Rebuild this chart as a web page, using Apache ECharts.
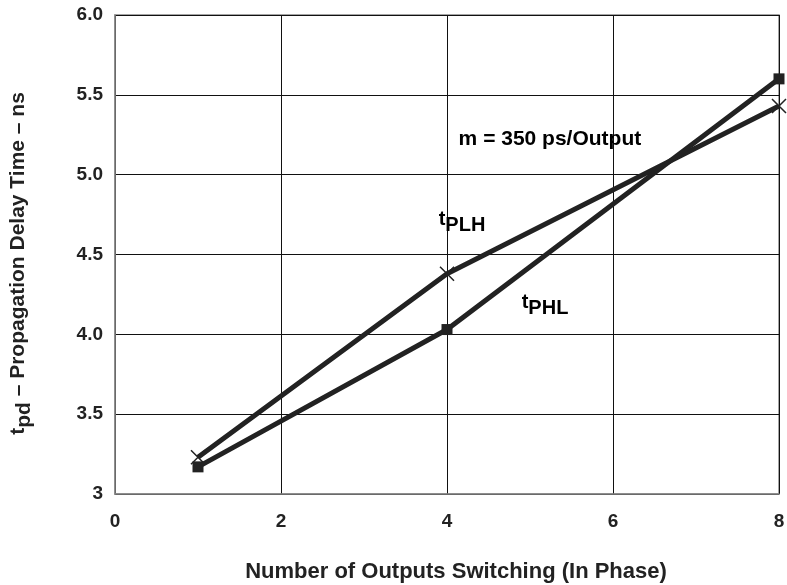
<!DOCTYPE html>
<html><head><meta charset="utf-8">
<script src="https://cdn.jsdelivr.net/npm/echarts@6/dist/echarts.min.js"></script>
<style>html,body{margin:0;padding:0;background:#fff}#c{width:787px;height:585px}</style>
</head><body><div id="c"></div>
<script>
const xTicks = [0, 2, 4, 6, 8];
const yTicks = [3, 3.5, 4.0, 4.5, 5.0, 5.5, 6.0];
const outputs = [1, 4, 8];
const tPLH = [3.23, 4.38, 5.43];
const tPHL = [3.17, 4.03, 5.60];
const notes = [
  {text: '{b|m = 350 ps/Output}', x: 4.14, y: 5.22},
  {text: '{t|t}{s|PLH}', x: 3.90, y: 4.70},
  {text: '{t|t}{s|PHL}', x: 4.90, y: 4.18}
];

const font = 'Liberation Sans, Arial, Helvetica, sans-serif';
const ink = '#222';
const chart = echarts.init(document.getElementById('c'), null, {renderer: 'canvas'});
const crossPath = 'path://M0,0L10,10M10,0L0,10';
const rich = {
  b: {fontFamily: font, fontWeight: 'bold', fontSize: 21, color: ink},
  t: {fontFamily: font, fontWeight: 'bold', fontSize: 20, color: ink, verticalAlign: 'top', lineHeight: 26},
  s: {fontFamily: font, fontWeight: 'bold', fontSize: 20, color: ink, verticalAlign: 'bottom', lineHeight: 26}
};
chart.setOption({
  animation: false,
  grid: {left: 115, right: 8, top: 15, bottom: 91, show: true, borderColor: '#888', borderWidth: 1.5,
         containLabel: false, outerBoundsMode: 'none'},
  xAxis: {
    type: 'value', min: xTicks[0], max: xTicks[xTicks.length - 1], interval: 2,
    name: 'Number of Outputs Switching (In Phase)', nameLocation: 'middle', nameGap: 67,
    nameTextStyle: {fontFamily: font, fontWeight: 'bold', fontSize: 22, color: ink, padding: [0, 0, 0, 18]},
    axisLine: {lineStyle: {color: '#888', width: 1.5}}, axisTick: {show: false},
    axisLabel: {fontFamily: font, fontWeight: 'bold', fontSize: 19, color: ink, margin: 18},
    splitLine: {lineStyle: {color: '#111', width: 1}}
  },
  yAxis: {
    type: 'value', min: yTicks[0], max: yTicks[yTicks.length - 1], interval: 0.5,
    name: '{t|t}{s|pd}{n| – Propagation Delay Time – ns}', nameLocation: 'middle', nameGap: 80, nameRotate: 90,
    nameTextStyle: {padding: [0, 18, 0, 0], rich: {
      t: {fontFamily: font, fontWeight: 'bold', fontSize: 21, color: ink, verticalAlign: 'top', lineHeight: 27},
      s: {fontFamily: font, fontWeight: 'bold', fontSize: 21, color: ink, verticalAlign: 'bottom', lineHeight: 27},
      n: {fontFamily: font, fontWeight: 'bold', fontSize: 21, color: ink, verticalAlign: 'top', lineHeight: 27}
    }},
    axisLine: {lineStyle: {color: '#888', width: 1.5}}, axisTick: {show: false},
    axisLabel: {fontFamily: font, fontWeight: 'bold', fontSize: 19, color: ink, margin: 12,
      formatter: v => v === 3 ? '3' : v.toFixed(1)},
    splitLine: {lineStyle: {color: '#111', width: 1}}
  },
  series: [
    {name: 'tPLH', type: 'line', data: outputs.map((x, i) => [x, tPLH[i]]),
     lineStyle: {color: ink, width: 5}, symbol: crossPath, symbolSize: 14, showAllSymbol: true,
     itemStyle: {color: 'none', borderColor: ink, borderWidth: 1.5}, z: 3},
    {name: 'tPHL', type: 'line', data: outputs.map((x, i) => [x, tPHL[i]]),
     lineStyle: {color: ink, width: 5}, symbol: 'rect', symbolSize: 11, showAllSymbol: true,
     itemStyle: {color: ink}, z: 4}
  ]
});
const g = notes.map(n => {
  const p = chart.convertToPixel({gridIndex: 0}, [n.x, n.y]);
  return {type: 'text', x: p[0], y: p[1], style: {text: n.text, rich: rich, verticalAlign: 'middle', align: 'left'}, z: 10};
});
chart.setOption({graphic: g});
</script></body></html>
